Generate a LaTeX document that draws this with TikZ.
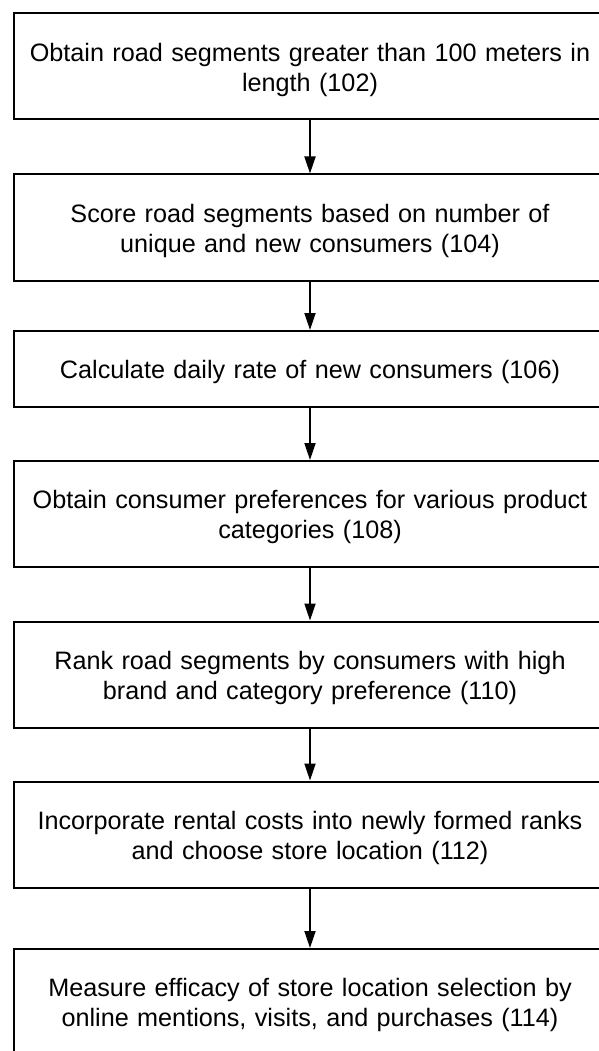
\documentclass[tikz,border=0pt]{standalone}
\usepackage{fontspec}
\setmainfont{Liberation Sans}
\usetikzlibrary{arrows.meta}

\tikzset{
  stepbox/.style={draw, line width=2pt, text width=592pt, align=center,
    inner sep=0pt, font=\fontsize{25.2}{30}\selectfont,
    execute at begin node=\rule{0pt}{24.5pt}},
  twoline/.style={stepbox, minimum height=106pt},
  oneline/.style={stepbox, minimum height=76pt},
  flow/.style={-{Triangle[length=17pt,width=11pt]}, line width=1.8pt},
}

\begin{document}
\begin{tikzpicture}[x=1pt, y=-1pt]
\clip (0,0) rectangle (599,1051);

% Steps
\node[twoline] (s102) at (310, 66.5) {Obtain road segments greater than 100 meters in\\length (102)};
\node[twoline] (s104) at (310, 227.5) {Score road segments based on number of\\unique and new consumers (104)};
\node[oneline] (s106) at (310, 369) {Calculate daily rate of new consumers (106)};
\node[twoline] (s108) at (310, 514) {Obtain consumer preferences for various product\\categories (108)};
\node[twoline] (s110) at (310, 674.5) {Rank road segments by consumers with high\\brand and category preference (110)};
\node[twoline] (s112) at (310, 834.5) {Incorporate rental costs into newly formed ranks\\and choose store location (112)};
\node[twoline] (s114) at (310, 1002) {Measure efficacy of store location selection by\\online mentions, visits, and purchases (114)};

% Arrows
\foreach \a/\b in {s102/s104,s104/s106,s106/s108,s108/s110,s110/s112,s112/s114}
  \draw[flow] (\a.south) -- (\b.north);

\end{tikzpicture}
\end{document}
